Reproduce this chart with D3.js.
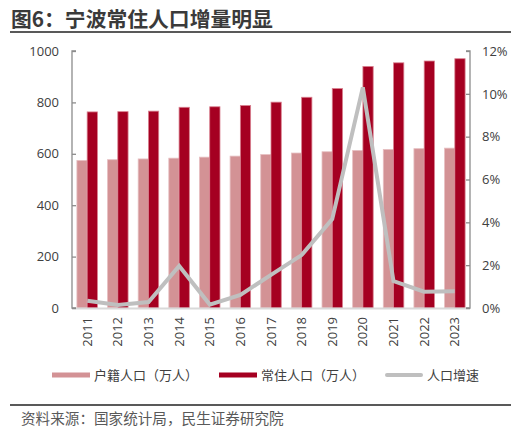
<!DOCTYPE html>
<html><head><meta charset="utf-8">
<script src="https://cdn.jsdelivr.net/npm/d3@7/dist/d3.min.js"></script>
<style>body{margin:0;background:#fff}svg{display:block}</style>
</head><body>
<script>
const years = ["2011","2012","2013","2014","2015","2016","2017","2018","2019","2020","2021","2022","2023"];
const huji = [574,577,580,583,587,591,597,603,608,613,617,620,622];
const changzhu = [763,764,766,781,783,788,801,820,854,940,954,961,970];
const growth = [0.34,0.14,0.28,1.96,0.16,0.61,1.55,2.47,4.15,10.3,1.26,0.76,0.78];
const leftTicks = [0,200,400,600,800,1000];
const rightTicks = [0,2,4,6,8,10,12];
const legendLabels = ["户籍人口（万人）","常住人口（万人）","人口增速"];

const W=516,H=435;
const svg=d3.select("body").append("svg").attr("width",W).attr("height",H);
const font="'Noto Sans CJK SC','Noto Sans',sans-serif";
const numFont="'Open Sans','Noto Sans',sans-serif";

// title
svg.append("text").attr("x",11).attr("y",27).attr("font-family",font).attr("font-weight","bold")
  .attr("font-size",20.8).attr("fill","#3a3a3a").text("图6：宁波常住人口增量明显");
svg.append("line").attr("x1",10).attr("x2",511).attr("y1",32).attr("y2",32).attr("stroke","#595959").attr("stroke-width",2);

const x0=72,x1=470,yTop=51,yBot=308;
const x=d3.scaleBand().domain(years).range([x0,x1]).paddingInner(0.33).paddingOuter(0.16);
const xc=d3.scaleBand().domain(years).range([x0,x1]);
const yL=d3.scaleLinear().domain([0,1000]).range([yBot,yTop]);
const yR=d3.scaleLinear().domain([0,12]).range([yBot,yTop]);
const bw=x.bandwidth()/2;

// bars
const g=svg.append("g");
g.selectAll(".h").data(years).join("rect")
  .attr("x",d=>x(d)).attr("width",bw).attr("y",(d,i)=>yL(huji[i])).attr("height",(d,i)=>yBot-yL(huji[i]))
  .attr("fill","#D39295").attr("stroke","#E6BFC1").attr("stroke-width",0.8);
g.selectAll(".c").data(years).join("rect")
  .attr("x",d=>x(d)+bw).attr("width",bw).attr("y",(d,i)=>yL(changzhu[i])).attr("height",(d,i)=>yBot-yL(changzhu[i]))
  .attr("fill","#A50021").attr("stroke","#D9808F").attr("stroke-width",0.8);

// bottom axis
svg.append("line").attr("x1",x0).attr("x2",x1).attr("y1",yBot+0.5).attr("y2",yBot+0.5).attr("stroke","#D9D9D9").attr("stroke-width",2);

// line
const line=d3.line().x((d,i)=>xc(years[i])+xc.bandwidth()/2).y(d=>yR(d));
svg.append("path").datum(growth).attr("d",line).attr("fill","none").attr("stroke","#BFBFBF").attr("stroke-width",4).attr("stroke-linejoin","miter");

// left axis
const la=svg.append("g").attr("transform",`translate(${x0},0)`).call(d3.axisRight(yL).tickValues(leftTicks).tickSize(4).tickFormat(d=>d));
la.select(".domain").attr("stroke","#8C8C8C").attr("stroke-width",1.3).attr("d",`M4,${yTop}H0V${yBot}H4`);
la.selectAll(".tick line").attr("stroke","#8C8C8C").attr("stroke-width",1.3);
la.selectAll(".tick text").attr("x",-13).attr("text-anchor","end").attr("font-family",numFont).attr("font-size",13).attr("fill","#404040");

// right axis
const ra=svg.append("g").attr("transform",`translate(${x1},0)`).call(d3.axisLeft(yR).tickValues(rightTicks).tickSize(4).tickFormat(d=>d+"%"));
ra.select(".domain").attr("stroke","#8C8C8C").attr("stroke-width",1.3).attr("d",`M-4,${yTop}H0V${yBot}H-4`);
ra.selectAll(".tick line").attr("stroke","#8C8C8C").attr("stroke-width",1.3);
ra.selectAll(".tick text").attr("x",12).attr("text-anchor","start").attr("font-family",numFont).attr("font-size",13).attr("fill","#404040");

// x labels
svg.append("g").selectAll("text").data(years).join("text")
  .attr("transform",d=>`translate(${xc(d)+xc.bandwidth()/2+4.5},317) rotate(-90)`)
  .attr("text-anchor","end").attr("font-family",numFont).attr("font-size",13).attr("fill","#404040").text(d=>d);

// legend
const leg=[{x:52,c:"#D39295",t:legendLabels[0],h:5},{x:219,c:"#A50021",t:legendLabels[1],h:5},{x:385,c:"#BFBFBF",t:legendLabels[2],h:4}];
leg.forEach(l=>{
  svg.append("rect").attr("x",l.x).attr("y",375-l.h/2).attr("width",38).attr("height",l.h).attr("fill",l.c).attr("rx",l.c==="#BFBFBF"?2:0);
  svg.append("text").attr("x",l.x+42).attr("y",380).attr("font-family",font).attr("font-size",13).attr("fill","#404040").text(l.t);
});

svg.append("line").attr("x1",10).attr("x2",511).attr("y1",405).attr("y2",405).attr("stroke","#595959").attr("stroke-width",2);
svg.append("text").attr("x",21).attr("y",424).attr("font-family",font).attr("font-size",14.6).attr("fill","#595959").text("资料来源：国家统计局，民生证券研究院");
</script>
</body></html>
